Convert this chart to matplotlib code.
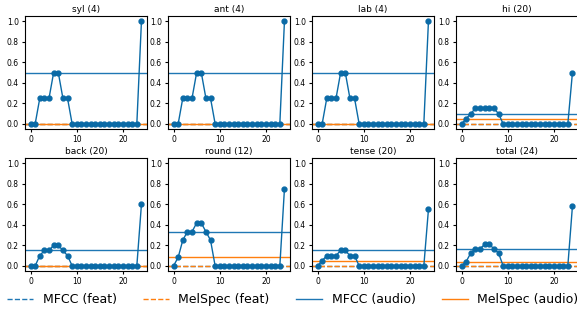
import numpy as np
import matplotlib.pyplot as plt

titles = ["syl (4)", "ant (4)", "lab (4)", "hi (20)",
          "back (20)", "round (12)", "tense (20)", "total (24)"]

layers = np.arange(25)
zeros_tail = [0.0] * 14

curves = [
    [0, 0, 0.25, 0.25, 0.25, 0.5, 0.5, 0.25, 0.25, 0] + zeros_tail + [1.0],
    [0, 0, 0.25, 0.25, 0.25, 0.5, 0.5, 0.25, 0.25, 0] + zeros_tail + [1.0],
    [0, 0, 0.25, 0.25, 0.25, 0.5, 0.5, 0.25, 0.25, 0] + zeros_tail + [1.0],
    [0, 0.05, 0.1, 0.15, 0.15, 0.15, 0.15, 0.15, 0.1, 0] + zeros_tail + [0.5],
    [0, 0, 0.1, 0.15, 0.15, 0.2, 0.2, 0.15, 0.1, 0] + zeros_tail + [0.6],
    [0, 0.083, 0.25, 0.333, 0.333, 0.417, 0.417, 0.333, 0.25, 0] + zeros_tail + [0.75],
    [0, 0.05, 0.1, 0.1, 0.1, 0.15, 0.15, 0.1, 0.1, 0] + zeros_tail + [0.55],
    [0, 0.042, 0.125, 0.167, 0.167, 0.208, 0.208, 0.167, 0.125, 0] + zeros_tail + [0.583],
]

mfcc_feat = [0, 0, 0, 0, 0, 0, 0, 0]
melspec_feat = [0, 0, 0, 0, 0, 0, 0, 0]
mfcc_audio = [0.5, 0.5, 0.5, 0.1, 0.15, 0.333, 0.15, 0.167]
melspec_audio = [0.0, 0.0, 0.0, 0.05, 0.0, 0.083, 0.05, 0.042]

blue = "#1f77b4"
orange = "#ff7f0e"
dark_blue = "#0a6aa6"

fig = plt.figure(figsize=(5.77, 3.22), dpi=100)
W, H = 577, 322
lefts = [25, 168, 312, 456]
tops = [16, 158]
aw, ah = 122, 113

for i, title in enumerate(titles):
    r, c = divmod(i, 4)
    ax = fig.add_axes([lefts[c] / W, 1 - (tops[r] + ah) / H, aw / W, ah / H])
    ax.axhline(mfcc_feat[i], color=blue, ls="--", lw=1, label="MFCC (feat)")
    ax.axhline(melspec_feat[i], color=orange, ls="--", lw=1, label="MelSpec (feat)")
    ax.axhline(mfcc_audio[i], color=blue, lw=1, label="MFCC (audio)")
    ax.axhline(melspec_audio[i], color=orange, lw=1, label="MelSpec (audio)")
    ax.plot(layers, curves[i], color=dark_blue, marker="o", ms=3.5, lw=1)
    ax.set_title(title, fontsize=6.5, pad=3)
    ax.set_ylim(-0.05, 1.05)
    ax.set_yticks([0, 0.2, 0.4, 0.6, 0.8, 1.0])
    ax.set_xticks([0, 10, 20])
    ax.tick_params(labelsize=5.5, length=2.5, pad=2)
    if i == 0:
        handles, labels = ax.get_legend_handles_labels()

fig.legend(handles, labels, loc="center left", bbox_to_anchor=(7 / W, 1 - 300 / H),
           ncol=4, frameon=False, fontsize=9, handlelength=2.1,
           handletextpad=0.75, columnspacing=2.1, borderaxespad=0, borderpad=0)

fig.savefig("out.png", dpi=100)
